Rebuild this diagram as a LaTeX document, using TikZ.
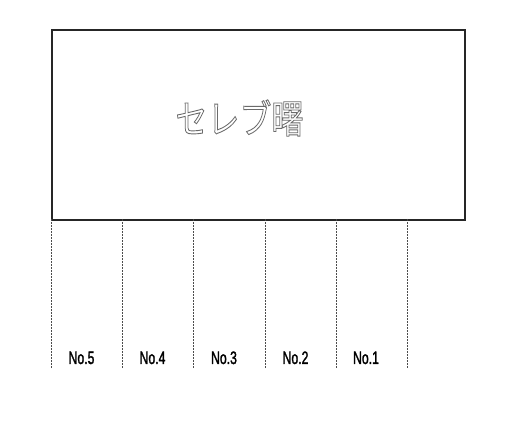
\documentclass[tikz,border=0pt]{standalone}
\usepackage{fontspec}
\setmainfont{Liberation Sans}
\newfontfamily\cjk{Noto Sans CJK JP}
\newcommand{\outlinetext}[1]{\special{pdf:literal direct 1 Tr 0.75 w 0.42 0.42 0.42 RG}#1\special{pdf:literal direct 0 Tr}}
\newcommand{\heavytext}[1]{\special{pdf:literal direct 2 Tr 0.35 w 0 0 0 RG}#1\special{pdf:literal direct 0 Tr}}
\begin{document}
\begin{tikzpicture}[x=1pt,y=-1pt,
  frame/.style={draw=black!85,line width=1.8pt},
  divider/.style={draw=black!70,line width=0.6pt,dash pattern=on 2pt off 1pt},
  lbl/.style={font=\fontsize{18}{18}\selectfont,anchor=base,inner sep=0pt}]
\useasboundingbox (0,0) rectangle (531,422);
\node[frame,minimum width=413pt,minimum height=190pt,anchor=north west,inner sep=0pt] (box) at (51,29) {};
\node[inner sep=0pt] (title) at (239.5,118) {\scalebox{1}[1.22]{\cjk\fontsize{32}{32}\selectfont\outlinetext{セレブ曙}}};
\foreach \i/\x in {0/51,1/122,2/193,3/265,4/336,5/407}{
  \coordinate (t\i) at (\x,219);
  \coordinate (b\i) at (\x,368);
  \draw[divider] (t\i) -- (b\i);
}
\node[lbl] (n5) at (81.5,364) {\scalebox{0.68}[1]{\heavytext{No.5}}};
\node[lbl] (n4) at (152.5,364) {\scalebox{0.68}[1]{\heavytext{No.4}}};
\node[lbl] (n3) at (224,364) {\scalebox{0.68}[1]{\heavytext{No.3}}};
\node[lbl] (n2) at (295.5,364) {\scalebox{0.68}[1]{\heavytext{No.2}}};
\node[lbl] (n1) at (366,364) {\scalebox{0.68}[1]{\heavytext{No.1}}};
\end{tikzpicture}
\end{document}
